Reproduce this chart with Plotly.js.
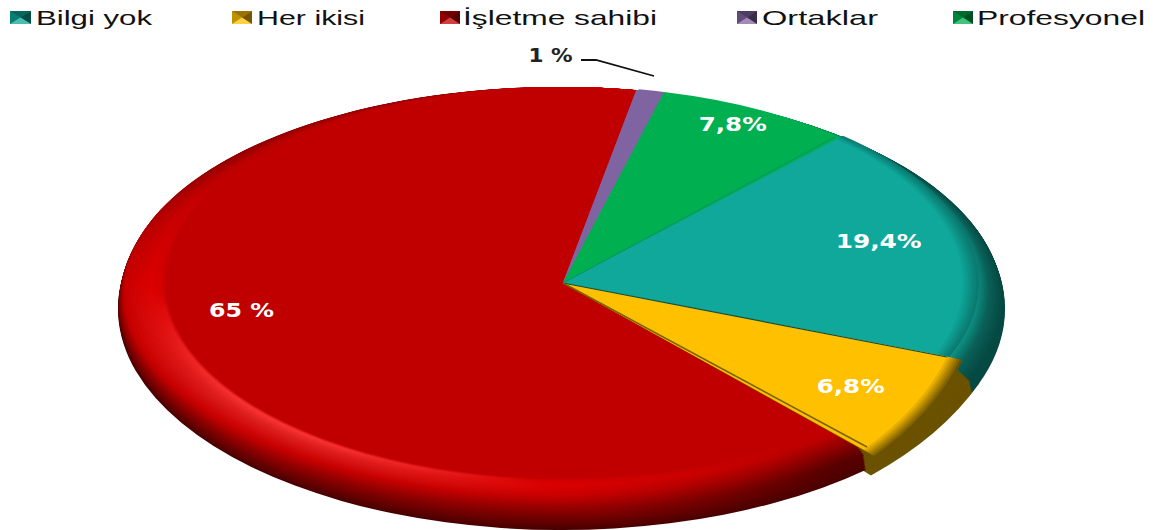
<!DOCTYPE html>
<html>
<head>
<meta charset="utf-8">
<script src="https://cdn.plot.ly/plotly-3.0.1.min.js"></script>
<style>html,body{margin:0;padding:0;background:#fff}#chart{width:1164px;height:530px}</style>
</head>
<body>
<div id="chart"></div>
<script>
// Data
const categories = ['Bilgi yok', 'Her ikisi', 'İşletme sahibi', 'Ortaklar', 'Profesyonel'];
const shares = [19.4, 6.8, 65, 1, 7.8];
const shareLabels = ['19,4%', '6,8%', '65 %', '1 %', '7,8%'];
const faceColors = ['#0fa89b', '#ffc000', '#c00000', '#8064a2', '#00b050'];

// Styling of the bevelled rim: ellipse edges and slice shades per stop
const rimStops = [0, 0.3, 0.5, 0.7, 0.82, 1];
const rimLeft = [118, 120, 124, 150, 162, 166];
const rimRight = [1005, 1002, 990, 975, 968, 960];
const rimBottom = [530, 512, 497, 486, 481, 478];
const rimTop = [88, 88, 87, 87, 87, 87];
const rimShades = [
  ['#064a44', '#064a44', '#0a6058', '#0d9a8e', '#0fa89b', '#0fa89b'],
  ['#6b5200', '#6b5200', '#6b5200', '#8a6a00', '#c99a00', '#ffc000'],
  ['#4a0000', '#8a0000', '#c80000', '#dc0000', '#d40000', '#c00000'],
  ['#4a3866', '#60487f', '#7a5f9c', '#8064a2', '#8064a2', '#8064a2'],
  ['#006030', '#00803f', '#00a04f', '#00b050', '#00b050', '#00b050']
];
const redHighlight = ['#4a0000', '#8a0000', '#c80000', '#e02020', '#ff3a3a', '#c00000'];
const redFade = ['#4a0000', '#5a0000', '#900000', '#b80000', '#c00000', '#c00000'];
const rimLayers = 34;
const startAngle = 42.3;
const clear = 'rgba(0,0,0,0)';

function lerp(arr, s) {
  for (let i = 1; i < rimStops.length; i++) {
    if (s <= rimStops[i]) {
      const t = (s - rimStops[i - 1]) / (rimStops[i] - rimStops[i - 1]);
      return arr[i - 1] + (arr[i] - arr[i - 1]) * t;
    }
  }
  return arr[arr.length - 1];
}
function hexRgb(h) { return [1, 3, 5].map(i => parseInt(h.substr(i, 2), 16)); }
function shade(arr, s) {
  const c = hexRgb(arr[0]).map((_, k) => Math.round(lerp(arr.map(h => hexRgb(h)[k]), s)));
  return 'rgb(' + c.join(',') + ')';
}
function mix(a, b, t) {
  const A = hexRgb(a), B = hexRgb(b);
  return 'rgb(' + A.map((v, k) => Math.round(v + (B[k] - v) * t)).join(',') + ')';
}

const traces = [], ellipses = [];
function addPie(colors, rotation, ellipse, extra) {
  traces.push(Object.assign({
    type: 'pie', labels: categories, values: shares, sort: false, direction: 'clockwise',
    rotation: rotation, textinfo: 'none', hoverinfo: 'skip', showlegend: false,
    marker: {colors: colors, line: {width: 0}}
  }, extra || {}));
  ellipses.push(ellipse);
}
const only = (idx, c) => faceColors.map((_, i) => i === idx ? c : clear);

// Her ikisi rim sticks out behind everything
addPie(only(1, '#6b5200'), 42.5, {cx: 563, cy: 283, rx: 450, ry: 264});
for (let i = 0; i < rimLayers; i++) {
  const s = i / (rimLayers - 1);
  const l = lerp(rimLeft, s), r = lerp(rimRight, s), b = lerp(rimBottom, s), t = lerp(rimTop, s);
  const e = {cx: (l + r) / 2, cy: (t + b) / 2, rx: (r - l) / 2, ry: (b - t) / 2, redStop: s};
  addPie(rimShades.map(a => shade(a, s)), startAngle, e);
}
// Top face, carries the legend
addPie(faceColors, startAngle, {cx: 563, cy: 282.5, rx: 397, ry: 195.5}, {showlegend: true});
// Bilgi yok face runs close to the silhouette, with a soft edge
for (let k = 0; k < 7; k++) {
  const f = k / 6;
  addPie(only(0, mix('#0b7a70', '#0fa89b', f)), startAngle,
    {cx: 563, cy: 283, rx: 416 - 16 * f, ry: 199 - 2 * f});
}
// Her ikisi face reaches further out, fading into its rim
for (let k = 0; k < 7; k++) {
  const f = k / 6;
  addPie(only(1, mix('#6b5200', '#ffc000', f)), 37.2,
    {cx: 563, cy: 283, rx: 402 + (1 - f) * 16, ry: 251 + (1 - f) * 12});
}
// Ortaklar and Profesyonel also run to the silhouette
addPie(faceColors.map((c, i) => (i === 3 || i === 4) ? c : clear), startAngle, {cx: 563, cy: 283, rx: 412, ry: 197});

const labelSpots = [[878, 241, 86], [850, 386, 68], [241, 310, 65], [550, 55, 44], [732, 124, 68]];
const px = x => x / 1164, py = y => 1 - y / 530;

const layout = {
  width: 1164, height: 530, margin: {l: 0, r: 0, t: 0, b: 0},
  paper_bgcolor: '#fff', plot_bgcolor: '#fff',
  font: {family: 'Liberation Sans, Arial, sans-serif'},
  showlegend: true,
  legend: {orientation: 'h', x: 0, y: 1, xanchor: 'left', yanchor: 'top',
    font: {family: 'Liberation Sans, Arial, sans-serif', size: 21, color: '#111'}, bgcolor: 'rgba(0,0,0,0)'},
  annotations: shareLabels.map((txt, i) => ({
    text: txt, xref: 'paper', yref: 'paper', x: px(labelSpots[i][0]), y: py(labelSpots[i][1]),
    xanchor: 'center', yanchor: 'middle', showarrow: false,
    font: {family: 'DejaVu Sans, sans-serif', size: 20, color: i === 3 ? '#222' : '#fff', weight: 700}
  })),
  shapes: [
    {type: 'path', xref: 'paper', yref: 'paper',
     path: `M${px(581)},${py(60)} L${px(596)},${py(60)} L${px(654)},${py(76)}`,
     line: {color: '#111', width: 1.8}},
    {type: 'line', xref: 'paper', yref: 'paper', x0: px(563), y0: py(283), x1: px(947), y1: py(357),
     line: {color: '#0b4f48', width: 1.2}},
    {type: 'line', xref: 'paper', yref: 'paper', x0: px(563), y0: py(283), x1: px(867), y1: py(447),
     line: {color: '#7a6000', width: 1.5}},
    {type: 'line', xref: 'paper', yref: 'paper', x0: px(563), y0: py(283), x1: px(835), y1: py(137),
     line: {color: '#0c8f68', width: 1}}
  ]
};

function stretch(el, w) {
  el.setAttribute('textLength', w);
  el.setAttribute('lengthAdjust', 'spacingAndGlyphs');
}

const legendSpots = {
  'Bilgi yok': [10, 21, 36, 116], 'Her ikisi': [232, 20, 257, 108], 'İşletme sahibi': [440, 20, 463, 194],
  'Ortaklar': [737, 20, 762, 116], 'Profesyonel': [953, 20, 977, 168]
};

Plotly.newPlot('chart', traces, layout, {displayModeBar: false, staticPlot: true}).then(gd => {
  const ns = 'http://www.w3.org/2000/svg';
  const defs = document.querySelector('.main-svg defs');
  // Squash each round pie into the reference's perspective ellipse
  document.querySelectorAll('.pielayer .trace').forEach((g, i) => {
    const cd = gd.calcdata[i][0], e = ellipses[i];
    const sx = e.rx / cd.r, sy = e.ry / cd.r;
    g.setAttribute('transform',
      `translate(${e.cx},${e.cy}) scale(${sx},${sy}) translate(${-cd.cx},${-cd.cy})`);
    if (e.redStop === undefined) return;
    // The red rim glows at the lower left and fades to the lower right
    const toLocal = (x, y) => [(x - e.cx) / sx + cd.cx, (y - e.cy) / sy + cd.cy];
    const A = toLocal(300, 200), Q = toLocal(250, 415);
    const dirX = 2 / sx, dirY = 1 / sy;
    let nx = -dirY, ny = dirX;
    const len = Math.hypot(nx, ny); nx /= len; ny /= len;
    const span = (Q[0] - A[0]) * nx + (Q[1] - A[1]) * ny;
    const grad = document.createElementNS(ns, 'linearGradient');
    grad.setAttribute('id', 'red' + i);
    grad.setAttribute('gradientUnits', 'userSpaceOnUse');
    grad.setAttribute('x1', A[0]); grad.setAttribute('y1', A[1]);
    grad.setAttribute('x2', A[0] + nx * span); grad.setAttribute('y2', A[1] + ny * span);
    [[0, shade(redFade, e.redStop)], [0.677, shade(rimShades[2], e.redStop)], [1, shade(redHighlight, e.redStop)]].forEach(([o, c]) => {
      const st = document.createElementNS(ns, 'stop');
      st.setAttribute('offset', o); st.setAttribute('stop-color', c);
      grad.appendChild(st);
    });
    defs.appendChild(grad);
    const red = g.querySelectorAll('.slice path.surface')[2];
    if (red) red.style.fill = `url(#red${i})`;
  });
  // Stretch the share labels
  document.querySelectorAll('.annotation-text').forEach((el, i) => stretch(el, labelSpots[i][2]));
  // Place the legend entries
  const leg = document.querySelector('.legend');
  leg.setAttribute('transform', 'translate(0,0)');
  leg.querySelectorAll('[clip-path]').forEach(n => n.removeAttribute('clip-path'));
  leg.querySelectorAll('.scrollbox').forEach(n => n.setAttribute('transform', 'translate(0,0)'));
  const bg = leg.querySelector('.bg'); if (bg) bg.style.display = 'none';
  leg.querySelectorAll('.traces').forEach(tr => {
    const text = tr.querySelector('.legendtext');
    const spot = legendSpots[text.textContent];
    if (!spot) return;
    tr.setAttribute('transform', 'translate(0,0)');
    text.setAttribute('x', spot[2]); text.setAttribute('y', 25);
    stretch(text, spot[3]);
    const sw = tr.querySelector('.legendpie path') || tr.querySelector('.legendpoints path');
    if (sw) {
      const w = spot[1], x0 = spot[0], y0 = 11, h = 13;
      sw.setAttribute('transform', `translate(${x0 + w / 2},${y0 + h / 2}) scale(${w / 12},${h / 12})`);
      sw.style.strokeWidth = 0;
      const add = (d, fill) => {
        const p = document.createElementNS(ns, 'path');
        p.setAttribute('d', d); p.setAttribute('fill', fill);
        tr.appendChild(p);
      };
      const cx = x0 + w / 2, cy = y0 + h / 2;
      add(`M${x0},${y0}L${cx},${cy}L${x0},${y0 + h}Z`, 'rgba(0,0,0,0.25)');
      add(`M${x0 + w},${y0}L${cx},${cy}L${x0 + w},${y0 + h}Z`, 'rgba(0,0,0,0.55)');
      add(`M${x0},${y0}L${cx},${cy}L${x0 + w},${y0}Z`, 'rgba(0,0,0,0.4)');
      add(`M${x0},${y0 + h}L${cx},${cy}L${x0 + w},${y0 + h}Z`, 'rgba(255,255,255,0.25)');
    }
  });
});
</script>
</body>
</html>
